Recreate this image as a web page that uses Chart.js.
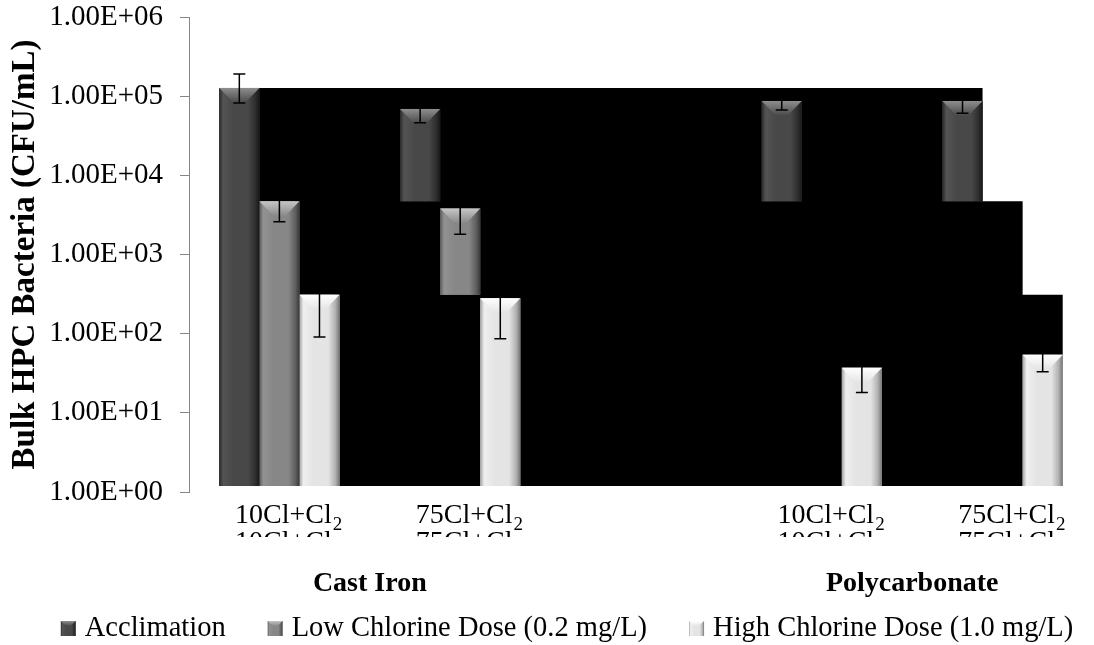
<!DOCTYPE html>
<html>
<head>
<meta charset="utf-8">
<title>Bulk HPC Bacteria</title>
<script src="https://cdn.jsdelivr.net/npm/chart.js@4.4.1/dist/chart.umd.min.js"></script>
<style>
  html, body { margin: 0; padding: 0; background: #fff; }
  #box { width: 1094px; height: 645px; }
</style>
</head>
<body>
<div id="box"><canvas id="hpcChart"></canvas></div>
<script>
// data (CFU/mL)
const categories = ['10Cl+Cl₂', '75Cl+Cl₂', '', '10Cl+Cl₂', '75Cl+Cl₂'];
const materials = ['Cast Iron', 'Polycarbonate'];
const materialCats = [[0, 1], [3, 4]];
const seriesNames = ['Acclimation', 'Low Chlorine Dose (0.2 mg/L)', 'High Chlorine Dose (1.0 mg/L)'];

const acclimation   = [1.27e5, 6.9e4, null, 8.7e4, 8.7e4];
const acclimationLo = [8.2e4, 4.6e4, null, 6.7e4, 6.1e4];
const acclimationHi = [1.9e5, 9.2e4, null, 1.07e5, 1.13e5];

const lowDose   = [4.7e3, 3.8e3, null, null, null];
const lowDoseLo = [2.6e3, 1.8e3, null, null, null];
const lowDoseHi = [6.8e3, 5.8e3, null, null, null];

const highDose   = [310, 280, null, 37, 54];
const highDoseLo = [91, 86, null, 18, 33];
const highDoseHi = [530, 474, null, 56, 75];

const yTicks = [1, 10, 100, 1000, 1e4, 1e5, 1e6];

const values = [acclimation, lowDose, highDose];
const lows = [acclimationLo, lowDoseLo, highDoseLo];
const highs = [acclimationHi, lowDoseHi, highDoseHi];

const FONT = "'Liberation Serif', 'Times New Roman', serif";
const catPct = 0.665;
const BAR_FLOOR = 1.19;

// levels of the black backdrop follow the first group
const firstGroup = values.map(s => s[0]);

// bars after the first group float down to the next level
function floorFor(series, i) {
    if (i === 0 || series === values.length - 1) return BAR_FLOOR;
    return firstGroup[series + 1];
}

const shades = [
    { edgeL: '#2a2a2a', light: '#545454', mid: '#484848', dark: '#2e2e2e', edgeR: '#181818', top: '#8e8e8e' },
    { edgeL: '#5a5a5a', light: '#929292', mid: '#878787', dark: '#5e5e5e', edgeR: '#383838', top: '#c6c6c6' },
    { edgeL: '#a2a2a2', light: '#efefef', mid: '#e4e4e4', dark: '#b0b0b0', edgeR: '#747474', top: '#ffffff' }
];

function paintBar(ctx, x0, x1, top, bot, s, bevel) {
    const w = x1 - x0;
    const g = ctx.createLinearGradient(x0, 0, x1, 0);
    g.addColorStop(0, s.edgeL);
    g.addColorStop(0.1, s.light);
    g.addColorStop(0.35, s.mid);
    g.addColorStop(0.72, s.mid);
    g.addColorStop(0.9, s.dark);
    g.addColorStop(1, s.edgeR);
    ctx.fillStyle = g;
    ctx.fillRect(x0, top, w, bot - top);
    const bh = Math.min(bevel, (bot - top) / 2);
    const cx = (x0 + x1) / 2, half = w * 0.14;
    const t = ctx.createLinearGradient(0, top, 0, top + bh);
    t.addColorStop(0, s.top);
    t.addColorStop(1, s.mid);
    ctx.fillStyle = t;
    ctx.beginPath();
    ctx.moveTo(x0, top);
    ctx.lineTo(x1, top);
    ctx.lineTo(cx + half, top + bh);
    ctx.lineTo(cx - half, top + bh);
    ctx.closePath();
    ctx.fill();
}

// stepped black block behind the bars, placed from the bar elements and the y scale
const backdrop = {
    id: 'backdrop',
    beforeDatasetsDraw(chart) {
        const { ctx } = chart;
        const y = chart.scales.y;
        const last = categories.length - 1;
        const metas = values.map((s, k) => chart.getDatasetMeta(k));
        const first = metas[0].data[0];
        const left = first.x - first.width / 2;
        const bottom = y.getPixelForValue(BAR_FLOOR);
        ctx.save();
        ctx.fillStyle = '#000';
        ctx.beginPath();
        ctx.moveTo(left, bottom);
        ctx.lineTo(left, y.getPixelForValue(firstGroup[0]));
        firstGroup.forEach((v, k) => {
            const el = metas[k].data[last];
            const right = el.x + el.width / 2;
            ctx.lineTo(right, y.getPixelForValue(v));
            const next = k < firstGroup.length - 1 ? y.getPixelForValue(firstGroup[k + 1]) : bottom;
            ctx.lineTo(right, next);
        });
        ctx.closePath();
        ctx.fill();
        ctx.restore();
    }
};

const barShade = {
    id: 'barShade',
    afterDatasetDraw(chart, args) {
        const meta = args.meta;
        const s = shades[meta.index];
        const ctx = chart.ctx;
        ctx.save();
        meta.data.forEach((el, i) => {
            if (values[meta.index][i] == null) return;
            const top = Math.min(el.y, el.base), bot = Math.max(el.y, el.base);
            paintBar(ctx, el.x - el.width / 2, el.x + el.width / 2, top, bot, s, 15);
        });
        ctx.restore();
    }
};

const errorBars = {
    id: 'errorBars',
    afterDatasetsDraw(chart) {
        const ctx = chart.ctx;
        const y = chart.scales.y;
        ctx.save();
        ctx.strokeStyle = '#000';
        ctx.lineWidth = 1.5;
        values.forEach((series, k) => {
            const meta = chart.getDatasetMeta(k);
            series.forEach((v, i) => {
                if (v == null) return;
                const x = meta.data[i].x;
                const yHi = y.getPixelForValue(highs[k][i]);
                const yLo = y.getPixelForValue(lows[k][i]);
                ctx.beginPath();
                ctx.moveTo(x, yHi); ctx.lineTo(x, yLo);
                ctx.moveTo(x - 6, yHi); ctx.lineTo(x + 6, yHi);
                ctx.moveTo(x - 6, yLo); ctx.lineTo(x + 6, yLo);
                ctx.stroke();
            });
        });
        ctx.restore();
    }
};

function drawSubLabel(ctx, label, cx, baseline) {
    let main = label, sub = '';
    if (label.endsWith('₂')) { main = label.slice(0, -1); sub = '2'; }
    ctx.font = '28px ' + FONT;
    const wm = ctx.measureText(main).width;
    ctx.textAlign = 'left';
    ctx.fillText(main, cx - wm / 2, baseline);
    if (sub) {
        ctx.font = '19px ' + FONT;
        ctx.fillText(sub, cx + wm / 2 + 1, baseline + 7);
    }
}

const textParts = {
    id: 'textParts',
    afterDraw(chart) {
        const { ctx, chartArea } = chart;
        const x = chart.scales.x;
        const base = chartArea.bottom;
        ctx.save();
        ctx.fillStyle = '#000';
        ctx.textBaseline = 'alphabetic';

        categories.forEach((label, i) => {
            if (!label) return;
            const cx = x.getPixelForValue(i) + 4;
            drawSubLabel(ctx, label, cx, base + 31);
            // second copy of the label row, cut off
            ctx.save();
            ctx.beginPath();
            ctx.rect(cx - 80, base + 38, 160, 7);
            ctx.clip();
            drawSubLabel(ctx, label, cx, base + 58);
            ctx.restore();
        });

        ctx.font = 'bold 28px ' + FONT;
        ctx.textAlign = 'center';
        materials.forEach((m, j) => {
            const [a, b] = materialCats[j];
            const cx = (x.getPixelForValue(a) + x.getPixelForValue(b)) / 2;
            ctx.fillText(m, cx, base + 99);
        });

        // legend
        const legendFont = '28.5px ' + FONT;
        ctx.font = legendFont;
        ctx.textAlign = 'left';
        const widths = seriesNames.map(n => ctx.measureText(n).width);
        const gap = 42;
        const total = widths.reduce((a, b) => a + b, 0) + seriesNames.length * 24 + (seriesNames.length - 1) * gap;
        let lx = chart.width / 2 + 20 - total / 2;
        const ly = base + 144;
        seriesNames.forEach((n, k) => {
            paintBar(ctx, lx, lx + 15, ly - 15, ly, shades[k], 5);
            ctx.fillStyle = '#000';
            ctx.font = legendFont;
            ctx.fillText(n, lx + 24, ly);
            lx += 24 + widths[k] + gap;
        });
        ctx.restore();
    }
};

function sciLabel(v) {
    const e = Math.floor(Math.log10(v) + 1e-9);
    const m = v / Math.pow(10, e);
    return m.toFixed(2) + 'E' + (e < 0 ? '-' : '+') + String(Math.abs(e)).padStart(2, '0');
}

document.addEventListener('DOMContentLoaded', function() {
    const chartElem = document.getElementById('hpcChart');
    const ctx = chartElem.getContext('2d');

    const barSets = values.map((series, k) => ({
        label: seriesNames[k],
        data: series.map((v, i) => v == null ? null : [floorFor(k, i), v]),
        backgroundColor: shades[k].mid,
        borderWidth: 0,
        categoryPercentage: catPct,
        barPercentage: 1
    }));

    new Chart(ctx, {
        type: 'bar',
        data: {
            labels: categories,
            datasets: barSets
        },
        options: {
            responsive: true,
            maintainAspectRatio: false,
            animation: false,
            devicePixelRatio: 1,
            layout: { padding: { left: 0, top: 0, right: 1, bottom: 0 } },
            plugins: {
                legend: { display: false },
                tooltip: { enabled: false }
            },
            scales: {
                x: {
                    grid: { display: false },
                    border: { display: false },
                    ticks: { display: false },
                    afterFit: function(scale) { scale.height = 153; }
                },
                y: {
                    type: 'logarithmic',
                    min: 1,
                    max: 1e6,
                    afterBuildTicks: function(scale) {
                        scale.ticks = yTicks.map(v => ({ value: v }));
                    },
                    afterFit: function(scale) {
                        scale.width = 189;
                        scale.paddingTop = 17;
                        scale.paddingBottom = 0;
                    },
                    border: { display: true, color: '#868686' },
                    grid: { drawOnChartArea: false, drawTicks: true, tickLength: 9, color: '#868686' },
                    ticks: {
                        padding: 17,
                        color: '#000',
                        font: { family: FONT, size: 29 },
                        callback: function(value) { return sciLabel(value); }
                    },
                    title: {
                        display: true,
                        text: 'Bulk HPC Bacteria (CFU/mL)',
                        color: '#000',
                        font: { family: FONT, size: 33, weight: 'bold' },
                        padding: { top: 6, bottom: 0 }
                    }
                }
            }
        },
        plugins: [backdrop, barShade, errorBars, textParts]
    });
});
</script>
</body>
</html>
